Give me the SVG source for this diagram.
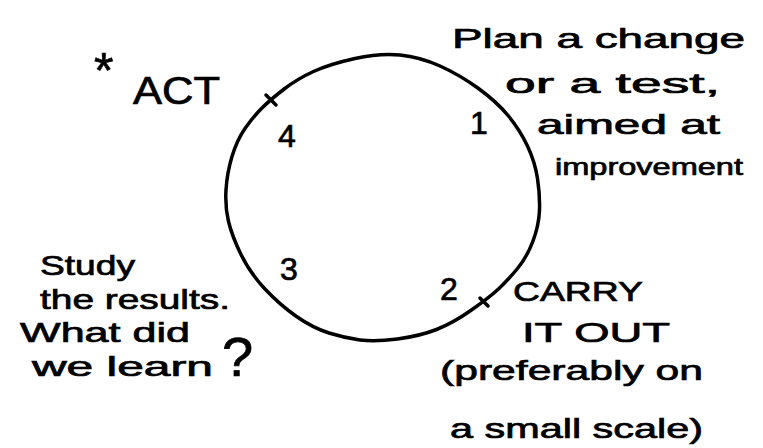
<svg xmlns="http://www.w3.org/2000/svg" width="763" height="448" viewBox="0 0 763 448">
<style>
text{font-family:"Liberation Sans","DejaVu Sans",sans-serif;fill:#000;stroke:#000;stroke-width:0.7;}
.t{font-size:28px;}
.s{font-size:24px;}
.n{font-size:32px;}
.c{fill:none;stroke:#000;stroke-width:3.5;stroke-linecap:round;stroke-linejoin:round;}
</style>
<rect width="763" height="448" fill="#fff"/>
<g id="connectors">
<path class="c" d="M355 58.5 Q380 53 400 55 Q420 57 440 66 Q460 75 478.5 88.5 Q497 102 508.5 116 Q520 130 527.5 146 Q535 162 537.5 178.5 Q540 195 539.5 210 Q539 225 533 241 Q527 257 517.5 268.5 Q508 280 499 288.5 Q490 297 471.5 310 Q453 323 436.5 329.5 Q420 336 397.5 339 Q375 342 360 340 Q345 338 329 333 Q313 328 296.5 316.5 Q280 305 265 289 Q250 273 241 254.5 Q232 236 228.5 221.5 Q225 207 226 190 Q227 173 232 156.5 Q237 140 245 128.5 Q253 117 261.5 108.5 Q270 100 283.5 89.5 Q297 79 313.5 71.5 Q330 64 355 58.5 Z"/>
<path class="c" d="M266 95 L276 105"/>
<path class="c" d="M480 298 L488 306"/>
</g>
<g id="plan">
<text class="t" x="452" y="48" textLength="293" lengthAdjust="spacingAndGlyphs">Plan a change</text>
<text class="t" x="505" y="93" textLength="215" lengthAdjust="spacingAndGlyphs">or a test,</text>
<text class="n" x="470" y="134">1</text>
<text class="t" x="537" y="134" textLength="183" lengthAdjust="spacingAndGlyphs">aimed at</text>
<text class="s" x="555" y="175" textLength="188" lengthAdjust="spacingAndGlyphs">improvement</text>
</g>
<g id="act">
<text style="font-size:50px" x="94" y="88">*</text>
<text style="font-size:38px" x="133" y="104" textLength="87" lengthAdjust="spacingAndGlyphs">ACT</text>
<text class="n" x="278" y="147">4</text>
</g>
<g id="study">
<text class="t" x="40" y="275" textLength="95" lengthAdjust="spacingAndGlyphs">Study</text>
<text class="t" x="40" y="309" textLength="190" lengthAdjust="spacingAndGlyphs">the results.</text>
<text class="t" x="20" y="342" textLength="170" lengthAdjust="spacingAndGlyphs">What did</text>
<text class="t" x="32" y="376" textLength="181" lengthAdjust="spacingAndGlyphs">we learn</text>
<text style="font-size:56px" x="222" y="376">?</text>
<text class="n" x="280" y="280">3</text>
</g>
<g id="do">
<text class="n" x="440" y="300">2</text>
<text class="t" x="513" y="301" textLength="130" lengthAdjust="spacingAndGlyphs">CARRY</text>
<text class="t" x="522" y="342" textLength="148" lengthAdjust="spacingAndGlyphs">IT OUT</text>
<text class="t" x="440" y="380" textLength="263" lengthAdjust="spacingAndGlyphs">(preferably on</text>
<text class="t" x="450" y="438" textLength="253" lengthAdjust="spacingAndGlyphs">a small scale)</text>
</g>
</svg>
